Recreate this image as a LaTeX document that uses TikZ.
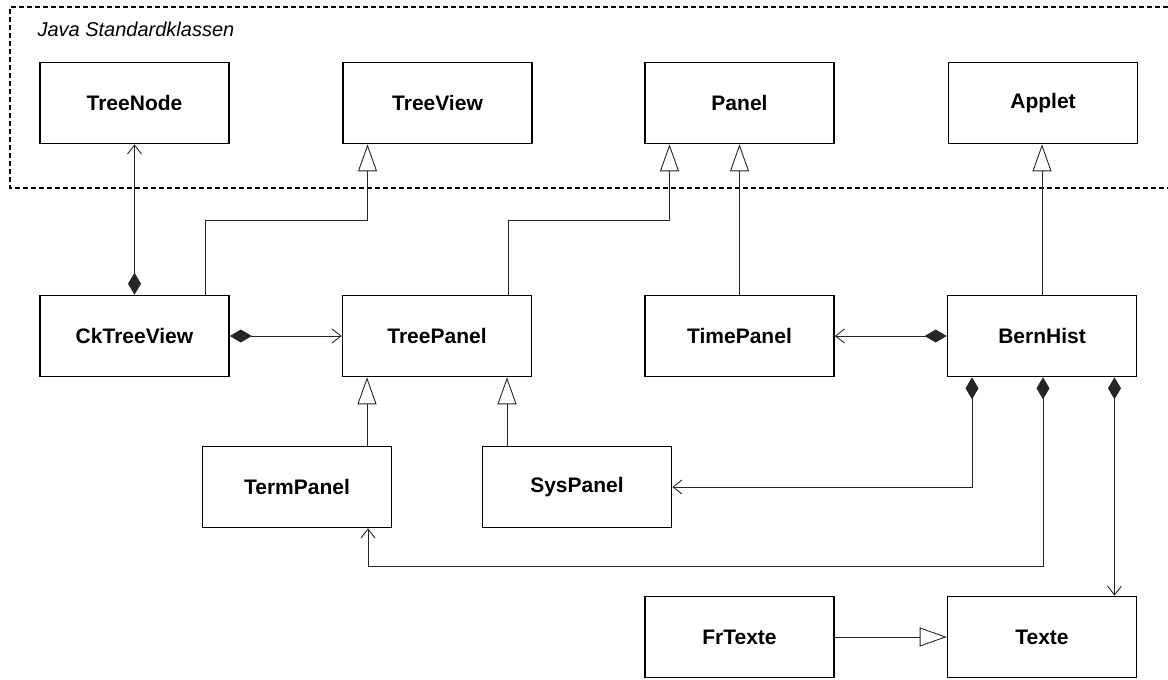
\documentclass[tikz,border=0pt]{standalone}
\usepackage{fontspec}
\setmainfont{Liberation Sans}
\usetikzlibrary{arrows.meta,calc}
\begin{document}
\begin{tikzpicture}[x=1pt,y=-1pt,
  cls/.style={draw, line width=1.6pt, minimum width=189pt, minimum height=81pt, inner sep=0pt, font=\fontsize{21}{25}\selectfont\bfseries},
  conn/.style={line width=0.9pt, draw=black!85},
  inh/.style={conn, -{Triangle[open, length=27pt, width=19pt]}},
  nav/.style={conn, -{Straight Barb[length=9pt, width=14pt]}},
  comp/.style={conn, {Diamond[length=22pt, width=13pt]}-{Straight Barb[length=9pt, width=14pt]}},
  compr/.style={conn, {Straight Barb[length=9pt, width=14pt]}-{Diamond[length=22pt, width=13pt]}},
  group/.style={line width=1.4pt, dash pattern=on 5pt off 3pt}
]
\useasboundingbox (0,0) rectangle (1168,680);
% group frame
\draw[group] (1168,7) -- (10,7) -- (10,188) -- (1168,188);
\node[anchor=west, font=\fontsize{20}{24}\selectfont\itshape] (grp) at (34,29) {Java Standardklassen};
% classes
\node[cls] (tn) at (134.5,103) {TreeNode};
\node[cls] (tv) at (437.5,103) {TreeView};
\node[cls] (pn) at (739.5,103) {Panel};
\node[cls] (ap) at (1043,103) {Applet};
\node[cls] (ck) at (134.5,336) {CkTreeView};
\node[cls] (tp) at (437,336) {TreePanel};
\node[cls] (ti) at (739.5,336) {TimePanel};
\node[cls] (bh) at (1042,336) {BernHist};
\node[cls] (tm) at (297,487) {TermPanel};
\node[cls] (sp) at (577,487) {SysPanel};
\node[cls] (fr) at (739.5,637) {FrTexte};
\node[cls] (tx) at (1042,637) {Texte};
% helper coordinates
\coordinate (ymid) at (0,220);
\coordinate (ylow) at (0,566);
\coordinate (ckT) at ($(ck.north)+(71,0)$);
\coordinate (tvB) at ($(tv.south)+(-70,0)$);
\coordinate (tpT) at ($(tp.north)+(71,0)$);
\coordinate (pnB) at ($(pn.south)+(-70,0)$);
\coordinate (tmT) at ($(tm.north)+(70,0)$);
\coordinate (tmB) at ($(tm.south)+(71,0)$);
\coordinate (spT) at ($(sp.north)+(-70,0)$);
\coordinate (bhL) at ($(bh.south)+(-70,0)$);
\coordinate (bhM) at ($(bh.south)+(1,0)$);
\coordinate (bhR) at ($(bh.south)+(72.5,0)$);
% associations
\draw[compr] (tn.south) -- (ck.north);
\draw[comp] (ck.east) -- (tp.west);
\draw[compr] (ti.east) -- (bh.west);
\draw[comp] (bhL) |- (sp.east);
\draw[comp] (bhM) -- (bhM |- ylow) -| (tmB);
\draw[comp] (bhR) -- (bhR |- tx.north);
% inheritance
\draw[inh] (ckT) -- (ckT |- ymid) -| (tvB);
\draw[inh] (tpT) -- (tpT |- ymid) -| (pnB);
\draw[inh] (ti.north) -- (pn.south);
\draw[inh] (bh.north) -- (bh.north |- ap.south);
\draw[inh] (tmT) -- (tmT |- tp.south);
\draw[inh] (spT) -- (spT |- tp.south);
\draw[inh] (fr.east) -- (tx.west);
\end{tikzpicture}
\end{document}
